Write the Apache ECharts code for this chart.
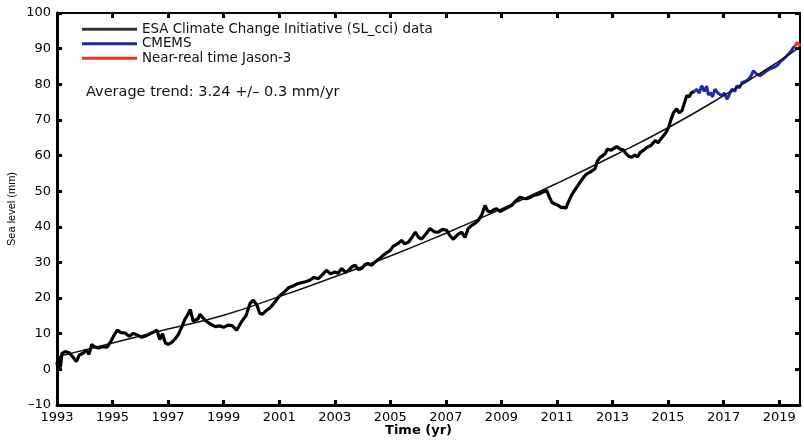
<!DOCTYPE html>
<html>
<head>
<meta charset="utf-8">
<script src="https://cdn.jsdelivr.net/npm/echarts@6/dist/echarts.min.js"></script>
<style>
html,body{margin:0;padding:0;background:#fff;}
#chart{width:804px;height:440px;}
</style>
</head>
<body>
<div id="chart"></div>
<script>
// ---- Data ----
var xTickYears = [1993,1995,1997,1999,2001,2003,2005,2007,2009,2011,2013,2015,2017,2019];

var esaYears = [1993.0,1993.04,1993.08,1993.12,1993.18,1993.3,1993.45,1993.6,1993.7,1993.8,1993.95,
1994.05,1994.15,1994.25,1994.35,1994.5,1994.65,1994.8,1994.95,1995.05,1995.17,1995.3,1995.45,1995.6,1995.75,1995.9,
1996.05,1996.2,1996.35,1996.5,1996.6,1996.7,1996.8,1996.9,1997.0,1997.13,1997.25,1997.37,1997.5,1997.6,1997.72,1997.8,1997.9,1997.97,
1998.08,1998.15,1998.25,1998.33,1998.5,1998.7,1998.85,1999.0,1999.15,1999.3,1999.47,1999.6,1999.7,1999.8,1999.95,
2000.07,2000.2,2000.3,2000.4,2000.55,2000.7,2000.85,2001.0,2001.2,2001.35,2001.5,2001.65,2001.8,2001.95,
2002.1,2002.25,2002.4,2002.55,2002.7,2002.85,2003.0,2003.12,2003.25,2003.38,2003.5,2003.62,2003.73,2003.85,2003.97,
2004.1,2004.2,2004.32,2004.45,2004.6,2004.75,2004.88,2005.0,2005.1,2005.17,2005.3,2005.4,2005.52,2005.65,2005.78,2005.9,
2006.02,2006.13,2006.28,2006.43,2006.58,2006.73,2006.88,2007.03,2007.15,2007.27,2007.42,2007.57,2007.69,2007.8,2007.93,
2008.05,2008.17,2008.3,2008.41,2008.5,2008.6,2008.72,2008.83,2008.95,2009.07,2009.2,2009.37,2009.5,2009.67,2009.8,2009.91,
2010.03,2010.15,2010.27,2010.39,2010.5,2010.63,2010.72,2010.81,2010.93,2011.05,2011.15,2011.23,2011.32,2011.41,2011.5,2011.59,2011.7,2011.83,2011.92,
2012.01,2012.1,2012.19,2012.28,2012.37,2012.46,2012.55,2012.65,2012.73,2012.82,2012.95,2013.05,2013.15,2013.28,2013.38,2013.45,2013.58,2013.7,2013.8,2013.9,
2014.0,2014.12,2014.24,2014.38,2014.54,2014.65,2014.75,2014.84,2014.93,2015.02,2015.1,2015.2,2015.31,2015.4,2015.5,2015.58,2015.67,2015.76,2015.85,2015.95];
var esaValues = [2.0,-0.5,3.5,0.5,4.5,5.0,4.6,3.2,2.2,4.0,4.6,
5.5,4.2,7.0,6.3,6.0,6.4,6.2,8.0,9.5,11.0,10.3,10.2,9.3,10.1,9.6,
9.0,9.4,10.0,10.6,11.0,8.4,10.0,7.4,7.0,7.6,8.5,9.8,12.0,14.0,15.5,16.8,13.5,13.0,
14.2,15.5,14.5,13.8,12.8,12.0,12.2,11.8,12.4,12.3,11.0,12.8,14.0,15.0,18.5,
19.4,18.0,15.7,15.5,16.6,17.5,19.0,20.5,21.8,23.0,23.4,24.0,24.3,24.6,
25.0,25.8,25.4,26.5,27.8,26.8,27.3,27.0,28.3,27.2,27.8,28.8,29.2,28.0,28.3,
29.5,29.7,29.2,30.1,31.0,32.0,32.8,33.4,34.5,35.0,35.4,36.2,35.2,35.7,37.0,38.5,
37.0,36.6,38.0,39.5,38.6,38.5,39.3,39.0,37.5,36.5,37.8,38.5,37.0,39.5,40.4,
41.0,41.8,43.5,46.0,44.5,44.1,44.8,45.1,44.3,44.8,45.3,46.0,47.2,48.3,48.0,47.9,
48.2,48.8,49.0,49.3,49.8,50.2,48.5,46.9,46.4,46.0,45.4,45.5,45.2,46.9,48.5,49.7,51.0,52.5,53.5,
54.4,55.0,55.3,55.8,56.3,58.5,59.5,60.0,60.5,61.8,61.5,62.0,62.5,61.8,61.6,60.9,59.8,59.5,60.2,59.6,
60.9,61.5,62.3,62.8,64.2,63.6,64.8,65.6,66.5,67.9,70.0,72.1,73.1,72.0,72.6,74.5,76.8,76.5,77.7,78.0];

var cmemsYears = [2015.95,2016.03,2016.12,2016.21,2016.3,2016.39,2016.45,2016.52,2016.6,2016.69,2016.8,2016.94,
2017.03,2017.12,2017.2,2017.3,2017.4,2017.48,2017.57,2017.66,2017.78,2017.9,2018.0,2018.07,2018.2,2018.31,2018.42,2018.55,
2018.67,2018.79,2018.88,2018.97,2019.06,2019.15,2019.25,2019.33,2019.42,2019.51,2019.58];
var cmemsValues = [78.0,78.6,77.5,79.6,78.0,79.5,77.0,77.7,76.5,78.6,77.5,76.8,
77.5,75.8,77.0,78.6,78.0,79.6,79.0,80.5,80.8,81.4,82.5,83.8,82.8,82.4,83.0,83.8,
84.3,84.7,85.0,85.6,86.5,87.0,87.8,88.4,89.2,90.3,90.8];

var jasonYears = [2019.55,2019.64,2019.72,2019.78];
var jasonValues = [90.5,91.7,91.0,91.2];

var trendYears = [1993,1995,1997,1999,2001,2003,2005,2007,2009,2011,2013,2015,2017,2019,2019.75];
var trendValues = [3.5,7.4,11.3,15.2,20.4,26.0,31.8,38.2,45.0,52.2,59.8,67.8,76.8,86.5,90.5];

var legendNames = ['ESA Climate Change Initiative (SL_cci) data','CMEMS','Near-real time Jason-3'];
var trendText = 'Average trend: 3.24 +/\u2013 0.3 mm/yr';

function pairs(xs, ys){ return xs.map(function(x,i){ return [x, ys[i]]; }); }

var FONT = 'DejaVu Sans';
var chart = echarts.init(document.getElementById('chart'), null, {renderer:'canvas'});
var option = {
  animation: false,
  backgroundColor: '#fff',
  grid: {left:57, right:4, top:13, bottom:35, containLabel:false, outerBoundsMode:'none'},
  legend: {
    data: legendNames,
    orient: 'vertical',
    left: 82, top: 22,
    icon: 'rect',
    itemWidth: 55, itemHeight: 3, itemGap: 0,
    padding: 0,
    textStyle: {fontFamily: FONT, fontSize: 13.4, color:'#111', lineHeight: 14.5}
  },
  graphic: [{
    type:'text', left: 86, top: 85,
    style: {text: trendText, fontFamily: FONT, fontSize: 14.5, fill:'#111'}
  }],
  xAxis: [{
    type:'value', min:1993, max:2019.75, position:'bottom',
    name:'Time (yr)', nameLocation:'middle', nameGap:19, nameMoveOverlap:false,
    nameTextStyle:{fontFamily:FONT, fontSize:13, fontWeight:'bold', color:'#000', padding:[0,20,0,0]},
    axisLine:{show:true, onZero:false, lineStyle:{color:'#000', width:3}},
    axisTick:{show:true, inside:true, length:5, customValues: xTickYears, lineStyle:{color:'#000', width:3}},
    axisLabel:{show:true, customValues: xTickYears, margin:6, fontFamily:FONT, fontSize:13, color:'#000',
      formatter:function(v){ return String(v); }},
    splitLine:{show:false}
  },{
    type:'value', min:1993, max:2019.75, position:'top',
    axisLine:{show:true, onZero:false, lineStyle:{color:'#000', width:2}},
    axisTick:{show:true, inside:true, length:5, customValues: xTickYears, lineStyle:{color:'#000', width:3}},
    axisLabel:{show:false},
    splitLine:{show:false}
  }],
  yAxis: [{
    type:'value', min:-10, max:100, interval:10, position:'left',
    name:'Sea level (mm)', nameLocation:'middle', nameGap:40, nameMoveOverlap:false,
    nameTextStyle:{fontFamily:'Liberation Sans', fontSize:11, color:'#000'},
    axisLine:{show:true, onZero:false, lineStyle:{color:'#000', width:3}},
    axisTick:{show:true, inside:true, length:5, lineStyle:{color:'#000', width:3}},
    axisLabel:{show:true, margin:6, fontFamily:FONT, fontSize:13, color:'#000',
      formatter:function(v){ return v<0 ? '\u2013'+Math.abs(v) : String(v); }},
    splitLine:{show:false}
  },{
    type:'value', min:-10, max:100, interval:10, position:'right',
    axisLine:{show:true, onZero:false, lineStyle:{color:'#000', width:2}},
    axisTick:{show:true, inside:true, length:5, lineStyle:{color:'#000', width:3}},
    axisLabel:{show:false},
    splitLine:{show:false}
  }],
  series: [{
    name: legendNames[0], type:'line', xAxisIndex:0, yAxisIndex:0,
    data: pairs(esaYears, esaValues), symbol:'none',
    lineStyle:{color:'#000', width:3.2}, itemStyle:{color:'#333'}
  },{
    name: legendNames[1], type:'line', xAxisIndex:0, yAxisIndex:0,
    data: pairs(cmemsYears, cmemsValues), symbol:'none',
    lineStyle:{color:'#1c2aa8', width:3}, itemStyle:{color:'#1c2aa8'}
  },{
    name: legendNames[2], type:'line', xAxisIndex:0, yAxisIndex:0,
    data: pairs(jasonYears, jasonValues), symbol:'none',
    lineStyle:{color:'#e8322a', width:3}, itemStyle:{color:'#e8322a'}
  },{
    name:'trend', type:'line', xAxisIndex:0, yAxisIndex:0,
    data: pairs(trendYears, trendValues), symbol:'none', smooth:true,
    lineStyle:{color:'#111', width:1.5}, z:3
  }]
};
chart.setOption(option);
</script>
</body>
</html>
